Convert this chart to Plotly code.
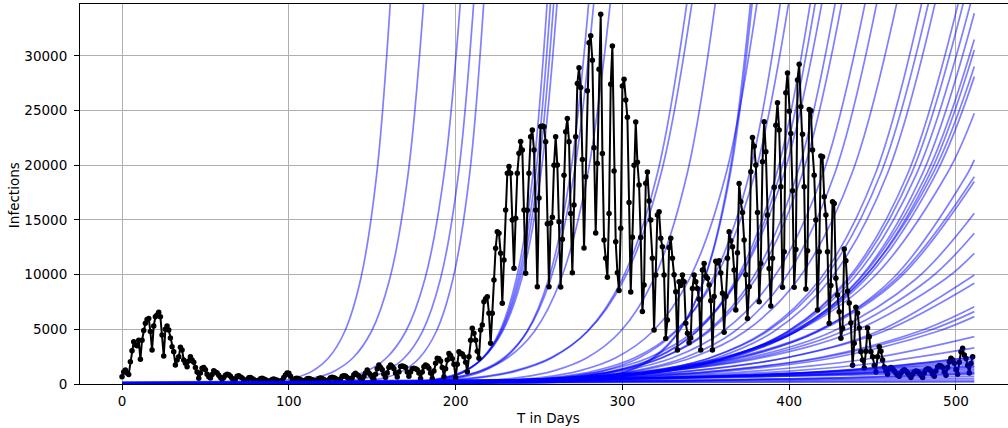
import plotly.graph_objects as go

# ---------------- observed daily infections (black) ----------------
infections = [
    670, 1100, 1280, 1000, 880, 2040, 3050, 3870, 3600, 3500,
    4000, 2260, 4000, 4900, 5550, 5900, 6000, 4800, 3100, 5300,
    6150, 6300, 6550, 6150, 4480, 2560, 5000, 5300, 4940, 4200,
    3400, 2960, 1740, 2200, 2500, 3350, 3100, 2200, 1900, 1580,
    2100, 2500, 2200, 2000, 1520, 1100, 520, 1000, 1430, 1520,
    1300, 900, 670, 560, 880, 1220, 1100, 1000, 800, 600,
    430, 600, 800, 900, 850, 700, 500, 370, 450, 700,
    750, 650, 550, 400, 300, 400, 580, 600, 500, 400,
    320, 250, 350, 480, 520, 450, 380, 300, 220, 300,
    420, 450, 400, 350, 280, 200, 350, 600, 820, 1000,
    980, 700, 300, 400, 500, 520, 480, 400, 320, 250,
    350, 480, 500, 450, 380, 300, 230, 350, 500, 550,
    500, 420, 330, 250, 400, 580, 620, 580, 500, 380,
    280, 450, 700, 750, 730, 600, 450, 330, 550, 850,
    980, 850, 700, 500, 380, 700, 1000, 1280, 1000, 850,
    600, 450, 900, 1400, 1740, 1500, 1300, 900, 600, 1000,
    1500, 1740, 1600, 1400, 1000, 650, 1100, 1600, 1650, 1600,
    1500, 1100, 700, 1100, 1400, 1430, 1400, 1300, 1000, 500,
    1100, 1580, 1740, 1650, 1450, 1000, 500, 1200, 1900, 2350,
    2300, 2100, 1500, 670, 1400, 2200, 2800, 2600, 2300, 1800,
    600, 1800, 2960, 2800, 2750, 2500, 2000, 1130, 2500, 4000,
    5090, 4630, 4000, 3000, 2350, 4930, 5400, 7530, 7800, 7990,
    6460, 3720, 6460, 9510, 12410, 13930, 13780, 11950, 7380, 11340,
    15920, 19270, 19880, 19270, 15000, 10580, 15150, 19270, 21100, 22170,
    21400, 15920, 10120, 15900, 19270, 22620, 23230, 21400, 15920, 8900,
    17000, 23540, 23600, 23520, 22150, 14660, 8900, 14720, 15250, 20000,
    22600, 20020, 14840, 8860, 13230, 19100, 23060, 24280, 22150, 15600,
    10170, 16360, 22600, 27480, 28910, 27120, 20540, 12430, 18950, 26810,
    31200, 31840, 29610, 21600, 13800, 20170, 28790, 33820, 21090, 13170,
    11490, 9760, 15600, 27400, 30920, 19480, 13000, 10180, 8540, 14240,
    27260, 27870, 25980, 24390, 16590, 8420, 13420, 20000, 23970, 20280,
    18200, 13390, 6620, 9060, 18350, 19390, 16740, 15000, 11490, 4940,
    9960, 15450, 15750, 13320, 12550, 9960, 4170, 5850, 12490, 13320,
    11490, 10000, 8440, 3110, 9350, 9000, 9960, 9350, 5550, 4630,
    3780, 4200, 8740, 9960, 9350, 8740, 7740, 3110, 10420, 11030,
    9870, 9660, 9050, 7620, 3100, 8000, 11220, 11070, 11270, 10150,
    8290, 4730, 8000, 11490, 13920, 13100, 12550, 10420, 6760, 12000,
    18340, 16660, 15690, 13160, 10000, 6000, 8890, 19400, 22550, 21750,
    20020, 15690, 7520, 11030, 20320, 23980, 21230, 15450, 10570, 7130,
    11490, 18000, 23670, 25710, 23220, 18030, 8840, 12090, 26630, 28450,
    24950, 22910, 17670, 8840, 12310, 27790, 29250, 25350, 22850, 18030,
    8680, 12180, 25110, 24980, 21390, 19100, 14990, 6760, 12090, 20840,
    20780, 17120, 15450, 12090, 5550, 9000, 16660, 16510, 9660, 8130,
    6610, 4190, 5100, 12340, 11260, 8490, 7410, 5570, 1720, 3720,
    7010, 6500, 5110, 2950, 2200, 1470, 3000, 5110, 4330, 2950,
    2500, 1700, 1100, 2500, 3410, 3000, 2200, 1550, 1200, 900,
    1400, 1500, 1400, 1200, 1000, 800, 700, 1000, 1200, 1300,
    1200, 1000, 800, 600, 900, 1100, 1200, 1150, 1000, 800,
    600, 1000, 1300, 1400, 1350, 1200, 900, 700, 1200, 1560,
    1700, 1650, 1500, 1100, 800, 1500, 2030, 2350, 2200, 1900,
    1300, 900, 2000, 2960, 3260, 2650, 2340, 1700, 1000, 1870,
    2500,
]
days = list(range(len(infections)))

# ---------------- projections (blue) ----------------
# curves that leave through the top: day at which each curve crosses these levels
exit_levels = [20, 150, 300, 600, 1200, 2400, 4800, 9600, 19200, 38400]
exit_curve_days = [
    [0, 85.5, 95.1, 104.7, 114.3, 123.9, 133.5, 143.1, 152.7, 162.3],
    [0, 94.5, 105.5, 116.5, 127.5, 138.5, 149.5, 160.5, 171.5, 182.5],
    [0, 112.6, 124.1, 135.6, 147.1, 158.6, 170.1, 181.6, 193.1, 204.6],
    [0, 126.1, 136.9, 147.7, 158.5, 169.3, 180.1, 190.9, 201.7, 212.5],
    [0, 138.4, 148.4, 158.4, 168.4, 178.4, 188.4, 198.4, 208.4, 218.4],
    [0, 176.4, 186.4, 196.4, 206.4, 216.4, 226.4, 236.4, 246.4, 256.4],
    [0, 174.5, 185.0, 195.5, 206.0, 216.5, 227.0, 237.5, 248.0, 258.5],
    [0, 172.5, 183.5, 194.5, 205.5, 216.5, 227.5, 238.5, 249.5, 260.5],
    [0, 170.6, 182.1, 193.6, 205.1, 216.6, 228.1, 239.6, 251.1, 262.6],
    [0, 177.8, 190.8, 203.8, 216.8, 229.8, 242.8, 255.8, 268.8, 281.8],
    [0, 173.0, 187.0, 201.0, 215.0, 229.0, 243.0, 257.0, 271.0, 285.0],
    [0, 167.2, 183.2, 199.2, 215.2, 231.2, 247.2, 263.2, 279.2, 295.2],
    [0, 173.9, 194.9, 215.9, 236.9, 257.9, 278.9, 299.9, 320.9, 341.9],
    [0, 169.1, 191.1, 213.1, 235.1, 257.1, 279.1, 301.1, 323.1, 345.1],
    [0, 198.8, 218.8, 238.8, 258.8, 278.8, 298.8, 318.8, 338.8, 358.8],
    [0, 259.1, 274.1, 289.1, 304.1, 319.1, 334.1, 349.1, 364.1, 379.1],
    [0, 256.2, 271.7, 287.2, 302.7, 318.2, 333.7, 349.2, 364.7, 380.2],
    [0, 208.1, 230.1, 252.1, 274.1, 296.1, 318.1, 340.1, 362.1, 384.1],
    [0, 222.1, 244.1, 266.1, 288.1, 310.1, 332.1, 354.1, 376.1, 398.1],
    [0, 211.4, 235.4, 259.4, 283.4, 307.4, 331.4, 355.4, 379.4, 403.4],
    [0, 224.4, 248.4, 272.4, 296.4, 320.4, 344.4, 368.4, 392.4, 416.4],
    [0, 219.5, 244.5, 269.5, 294.5, 319.5, 344.5, 369.5, 394.5, 419.5],
    [0, 207.8, 234.8, 261.8, 288.8, 315.8, 342.8, 369.8, 396.8, 423.8],
    [0, 215.8, 242.8, 269.8, 296.8, 323.8, 350.8, 377.8, 404.8, 431.8],
    [0, 211.9, 239.9, 267.9, 295.9, 323.9, 351.9, 379.9, 407.9, 435.9],
    [0, 210.2, 240.2, 270.2, 300.2, 330.2, 360.2, 390.2, 420.2, 450.2],
    [0, 217.2, 247.2, 277.2, 307.2, 337.2, 367.2, 397.2, 427.2, 457.2],
    [0, 213.5, 245.5, 277.5, 309.5, 341.5, 373.5, 405.5, 437.5, 469.5],
    [0, 220.6, 253.6, 286.6, 319.6, 352.6, 385.6, 418.6, 451.6, 484.6],
    [0, 216.8, 250.8, 284.8, 318.8, 352.8, 386.8, 420.8, 454.8, 488.8],
    [0, 220.8, 254.8, 288.8, 322.8, 356.8, 390.8, 424.8, 458.8, 492.8],
    [0, 219.0, 255.0, 291.0, 327.0, 363.0, 399.0, 435.0, 471.0, 507.0],
    [0, 214.2, 251.2, 288.2, 325.2, 362.2, 399.2, 436.2, 473.2, 510.2],
]

# curves still below the top at the last day: (crossing days, values)
open_curve_days = [
    [0, 210.3, 248.3, 286.3, 324.3, 362.3, 400.3, 438.3, 476.3, 511],
    [0, 213.8, 251.8, 289.8, 327.8, 365.8, 403.8, 441.8, 479.8, 511],
    [0, 202.4, 242.4, 282.4, 322.4, 362.4, 402.4, 442.4, 482.4, 511],
    [0, 204.2, 244.2, 284.2, 324.2, 364.2, 404.2, 444.2, 484.2, 511],
    [0, 192.0, 234.0, 276.0, 318.0, 360.0, 402.0, 444.0, 486.0, 511],
    [0, 193.9, 235.9, 277.9, 319.9, 361.9, 403.9, 445.9, 487.9, 511],
    [0, 179.5, 224.5, 269.5, 314.5, 359.5, 404.5, 449.5, 494.5, 511],
    [0, 191.8, 236.8, 281.8, 326.8, 371.8, 416.8, 461.8, 506.8, 511],
    [0, 175.9, 223.9, 271.9, 319.9, 367.9, 415.9, 463.9, 511],
    [0, 177.5, 225.5, 273.5, 321.5, 369.5, 417.5, 465.5, 511],
    [0, 176.0, 226.0, 276.0, 326.0, 376.0, 426.0, 476.0, 511],
    [0, 171.9, 223.9, 275.9, 327.9, 379.9, 431.9, 483.9, 511],
    [0, 163.6, 218.6, 273.6, 328.6, 383.6, 438.6, 493.6, 511],
    [0, 178.0, 233.0, 288.0, 343.0, 398.0, 453.0, 511],
    [0, 166.5, 224.5, 282.5, 340.5, 398.5, 456.5, 511],
    [0, 177.5, 237.5, 297.5, 357.5, 417.5, 477.5, 511],
    [0, 172.2, 234.2, 296.2, 358.2, 420.2, 482.2, 511],
    [0, 178.7, 240.7, 302.7, 364.7, 426.7, 488.7, 511],
    [0, 171.4, 241.4, 311.4, 381.4, 451.4, 511],
    [0, 186.3, 266.3, 346.3, 426.3, 506.3, 511],
]
open_curve_values = [
    [20, 150, 300, 600, 1200, 2400, 4800, 9600, 19200, 36100],
    [20, 150, 300, 600, 1200, 2400, 4800, 9600, 19200, 33900],
    [20, 150, 300, 600, 1200, 2400, 4800, 9600, 19200, 31500],
    [20, 150, 300, 600, 1200, 2400, 4800, 9600, 19200, 30550],
    [20, 150, 300, 600, 1200, 2400, 4800, 9600, 19200, 29030],
    [20, 150, 300, 600, 1200, 2400, 4800, 9600, 19200, 28110],
    [20, 150, 300, 600, 1200, 2400, 4800, 9600, 19200, 24760],
    [20, 150, 300, 600, 1200, 2400, 4800, 9600, 19200, 20490],
    [20, 150, 300, 600, 1200, 2400, 4800, 9600, 18960],
    [20, 150, 300, 600, 1200, 2400, 4800, 9600, 18510],
    [20, 150, 300, 600, 1200, 2400, 4800, 9600, 15610],
    [20, 150, 300, 600, 1200, 2400, 4800, 9600, 13780],
    [20, 150, 300, 600, 1200, 2400, 4800, 9600, 11950],
    [20, 150, 300, 600, 1200, 2400, 4800, 9970],
    [20, 150, 300, 600, 1200, 2400, 4800, 9210],
    [20, 150, 300, 600, 1200, 2400, 4800, 7070],
    [20, 150, 300, 600, 1200, 2400, 4800, 6620],
    [20, 150, 300, 600, 1200, 2400, 4800, 6160],
    [20, 150, 300, 600, 1200, 2400, 4330],
    [20, 150, 300, 600, 1200, 2400, 2500],
]

# slow curves forming the dense band near zero
band_days = [0, 100, 200, 300, 400, 450, 511]
band_values = [
    [29, 74, 186, 469, 1183, 1875, 3300],
    [29, 70, 166, 394, 935, 1442, 2450],
    [45, 97, 209, 454, 979, 1437, 2300],
    [61, 121, 243, 486, 972, 1373, 2100],
    [76, 143, 268, 503, 945, 1293, 1900],
    [89, 159, 282, 502, 895, 1195, 1700],
    [46, 92, 185, 370, 741, 1046, 1600],
    [99, 168, 286, 487, 829, 1085, 1500],
    [127, 202, 321, 509, 808, 1017, 1350],
    [150, 225, 338, 508, 764, 936, 1200],
    [178, 252, 357, 505, 714, 847, 1050],
    [29, 58, 116, 231, 463, 654, 1000],
    [47, 84, 149, 265, 474, 634, 900],
    [66, 105, 167, 264, 419, 526, 700],
    [85, 120, 170, 240, 340, 403, 500],
    [92, 116, 146, 184, 233, 261, 300],
    [83, 98, 117, 139, 165, 180, 200],
]

x_ticks = [0, 100, 200, 300, 400, 500]
y_ticks = [0, 5000, 10000, 15000, 20000, 25000, 30000]

BLUE = "rgba(0,0,255,0.5)"
FONT = "DejaVu Sans"

fig = go.Figure()


def add_blue(xs, ys):
    fig.add_trace(go.Scatter(
        x=xs, y=ys, mode="lines",
        line=dict(color=BLUE, width=1.7, shape="spline", smoothing=1.0),
        hoverinfo="skip", showlegend=False))


for d in exit_curve_days:
    add_blue(d, exit_levels)
for d, v in zip(open_curve_days, open_curve_values):
    add_blue(d, v)

fig.add_trace(go.Scatter(
    x=days, y=infections, mode="lines+markers",
    line=dict(color="black", width=2),
    marker=dict(color="black", size=5.5),
    hoverinfo="skip", showlegend=False))

for v in band_values:
    add_blue(band_days, v)

axis_common = dict(
    showgrid=True, gridcolor="#b0b0b0", gridwidth=1,
    showline=True, linecolor="black", linewidth=1,
    ticks="outside", ticklen=5, tickwidth=1, tickcolor="black",
    zeroline=False,
    tickfont=dict(family=FONT, size=13.5, color="black"),
)

fig.update_layout(
    width=1008, height=428,
    margin=dict(l=80, r=0, t=4, b=44),
    paper_bgcolor="white", plot_bgcolor="white",
    xaxis=dict(range=[-25.2, 531.2], tickvals=x_ticks,
               ticktext=[str(t) for t in x_ticks], mirror=True,
               **axis_common),
    yaxis=dict(range=[0, 34750], tickvals=y_ticks,
               ticktext=[str(t) for t in y_ticks], mirror=False,
               ticklabelstandoff=4, **axis_common),
    annotations=[
        dict(text="T in Days", xref="paper", yref="paper",
             x=0.5043, y=-0.0895, showarrow=False,
             font=dict(family=FONT, size=13.5, color="black"),
             xanchor="center", yanchor="middle"),
        dict(text="Infections", xref="paper", yref="paper",
             x=-0.0711, y=0.497, showarrow=False, textangle=-90,
             font=dict(family=FONT, size=13.5, color="black"),
             xanchor="center", yanchor="middle"),
    ],
)

fig.write_html(
    "out.html",
    config={"displayModeBar": False},
    post_script="document.body.style.margin='0';document.body.style.padding='0';",
)
